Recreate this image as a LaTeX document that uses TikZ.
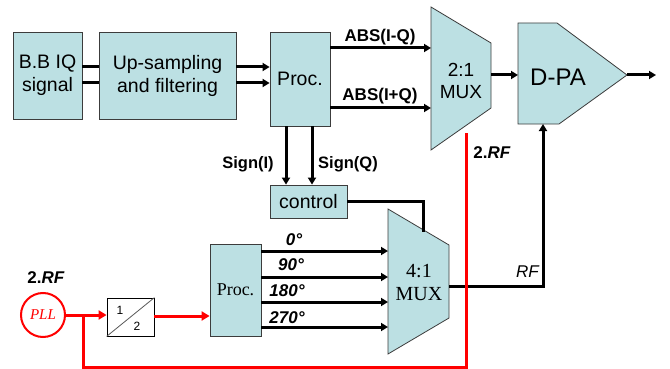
\documentclass[tikz,border=0pt]{standalone}
\usepackage{fontspec}
\setmainfont{Liberation Sans}
\newfontfamily\tmsfont{Liberation Serif}
\usetikzlibrary{arrows.meta}
\definecolor{boxfill}{RGB}{188,224,227}
\definecolor{boxline}{RGB}{60,60,60}
\definecolor{rfred}{RGB}{255,0,0}
\newcommand{\fsz}[1]{\fontsize{#1}{#1}\selectfont}
\begin{document}
\begin{tikzpicture}[x=1pt,y=-1pt,
  blk/.style={draw=boxline, fill=boxfill, line width=0.8pt, inner sep=0pt, align=center},
  shp/.style={draw=boxline, fill=boxfill, line width=0.8pt},
  wire/.style={line width=3pt},
  arr/.style={wire, -{Triangle[length=7pt,width=8pt]}},
  rwire/.style={line width=3pt, draw=rfred},
  rarr/.style={rwire, -{Triangle[length=8pt,width=9pt]}},
  lbl/.style={inner sep=0pt, font=\bfseries\fsz{16.5}},
  big/.style={font=\fontsize{19.5}{23}\selectfont},
]
\useasboundingbox (0,0) rectangle (670,369);

% ---------- upper chain ----------
\node[blk, big, minimum width=69pt, minimum height=87pt] (bb) at (47.5,75.5) {B.B IQ\\signal};
\node[blk, big, minimum width=137pt, minimum height=87pt] (up) at (167.5,75.5) {Up-sampling\\and filtering};
\node[blk, big, minimum width=60pt, minimum height=94pt] (proc) at (300,79) {Proc.};
\node[blk, big, minimum width=77pt, minimum height=33pt] (ctrl) at (308.5,201.5) {control};

% 2:1 MUX
\draw[shp] (431,7) -- (491,43) -- (491,108) -- (431,150) -- cycle;
\node[inner sep=0pt, align=center, font=\fontsize{19}{22}\selectfont] (mux2) at (461,81) {2:1\\MUX};
\coordinate (mux2a) at (431,48);
\coordinate (mux2b) at (431,108);
\coordinate (mux2o) at (491,75);
\coordinate (mux2r) at (466,133);

% D-PA
\draw[shp] (518,23) -- (557,23) -- (627,75) -- (559,124) -- (518,124) -- cycle;
\node[inner sep=0pt, font=\fsz{24}] (dpa) at (558,77) {D-PA};
\coordinate (dpain) at (518,75);
\coordinate (dpaout) at (627,75);
\coordinate (dpabot) at (543,124);
\coordinate (outend) at (656,75);

% ---------- lower chain ----------
\node[blk, minimum width=51pt, minimum height=92pt, font=\tmsfont\fsz{18}] (proc2) at (235.5,290) {Proc.};
\draw[shp] (388,209) -- (449,245) -- (449,318) -- (388,354) -- cycle;
\node[inner sep=0pt, align=center, font=\tmsfont\fontsize{20}{23}\selectfont] (mux4) at (419,282) {4:1\\MUX};
\coordinate (mux4o) at (449,286);
\coordinate (mux4c) at (423,232);

% PLL and divider
\node[circle, draw=rfred, line width=2pt, fill=white, minimum size=44pt, inner sep=0pt,
      text=rfred, font=\tmsfont\itshape\fsz{15}] (pll) at (43,315) {PLL};
\node[draw=black, line width=0.8pt, fill=white, minimum width=47pt, minimum height=38pt, inner sep=0pt] (div) at (130.5,317) {};
\draw[gray!70!black, line width=0.8pt] (div.south west) -- (div.north east);
\node[inner sep=0pt, font=\fsz{12}] (d1) at (120,310) {1};
\node[inner sep=0pt, font=\fsz{12}] (d2) at (137,326) {2};

% ---------- wires ----------
\draw[wire] (bb.east |- 0,67) -- (up.west |- 0,67);
\draw[wire] (bb.east |- 0,83) -- (up.west |- 0,83);
\draw[arr] (up.east |- 0,67) -- (proc.west |- 0,67);
\draw[arr] (up.east |- 0,83) -- (proc.west |- 0,83);
\draw[arr] (proc.east |- mux2a) -- (mux2a);
\draw[arr] (proc.east |- mux2b) -- (mux2b);
\draw[arr] (mux2o) -- (dpain);
\draw[arr] (dpaout) -- (outend);
\draw[arr] (proc.south -| 286,0) -- (ctrl.north -| 286,0);
\draw[arr] (proc.south -| 312,0) -- (ctrl.north -| 312,0);
\draw[wire] (ctrl.east) -- (ctrl.east -| mux4c) -- (mux4c);

\foreach \yy in {251,277,302,327}
  \draw[arr] (proc2.east |- 0,\yy) -- (388,\yy);
\draw[arr] (mux4o) -- (mux4o -| dpabot) -- (dpabot);

% red RF path
\draw[rarr] (pll.east) -- (div.west |- pll.east);
\draw[rarr] (div.east |- 0,316) -- (proc2.west |- 0,316);
\draw[rwire] (83,315) -- (83,367) -- (mux2r |- 0,367) -- (mux2r);

% ---------- labels ----------
\node[lbl, font=\bfseries\fsz{17}] (l1) at (380,37) {ABS(I-Q)};
\node[lbl, font=\bfseries\fsz{17}] (l2) at (380,96) {ABS(I+Q)};
\node[lbl] (l3) at (248,164) {Sign(I)};
\node[lbl] (l4) at (348,164) {Sign(Q)};
\node[lbl, font=\bfseries\fsz{17}] (l5) at (492,153) {2.\textit{RF}};
\node[lbl, font=\bfseries\fsz{17}] (l6) at (46,278) {2.\textit{RF}};
\node[lbl, font=\itshape\fsz{17}, anchor=east] (l7) at (539,272) {RF};
\node[lbl, font=\bfseries\itshape\fsz{17}] (p0) at (294,240) {0°};
\node[lbl, font=\bfseries\itshape\fsz{17}] (p1) at (291,265) {90°};
\node[lbl, font=\bfseries\itshape\fsz{17}] (p2) at (287,291) {180°};
\node[lbl, font=\bfseries\itshape\fsz{17}] (p3) at (287,318) {270°};
\end{tikzpicture}
\end{document}
